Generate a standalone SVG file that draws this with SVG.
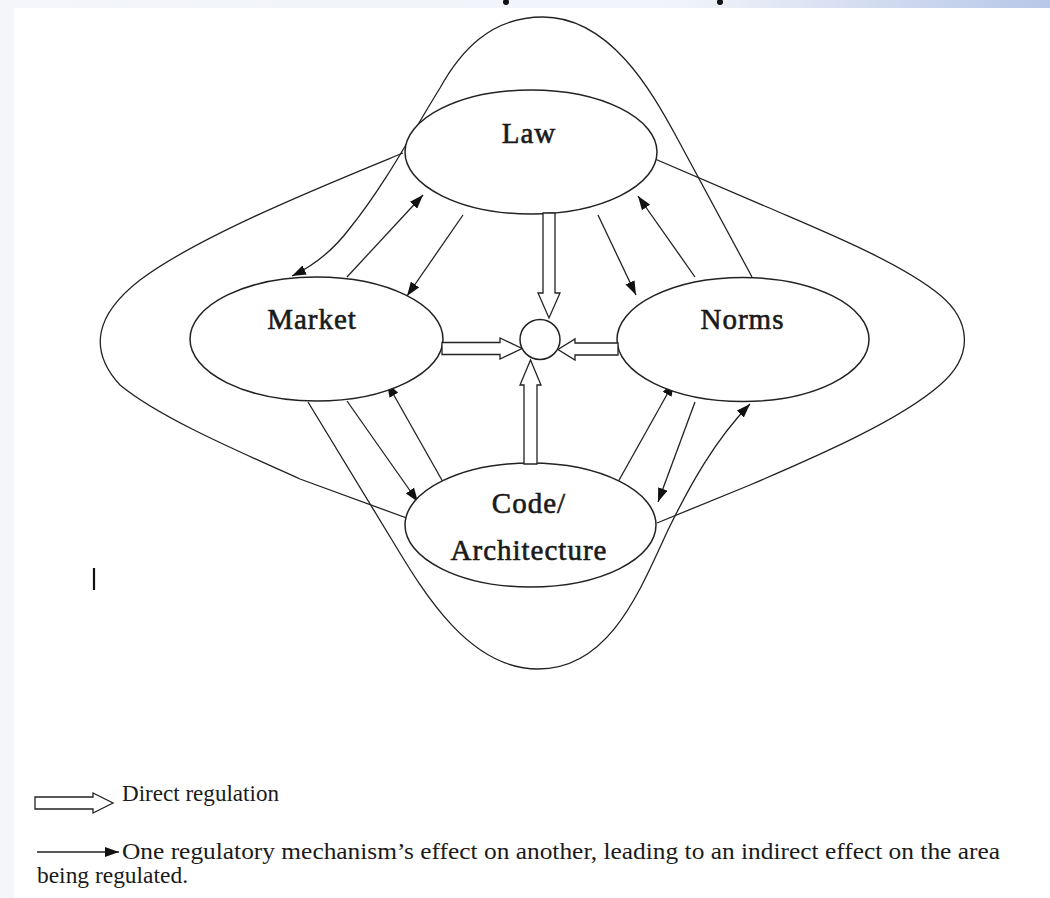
<svg xmlns="http://www.w3.org/2000/svg" width="1050" height="898" viewBox="0 0 1050 898">
<defs>
<linearGradient id="topbar" x1="0" y1="0" x2="1" y2="0">
<stop offset="0" stop-color="#f4f6fa"/>
<stop offset="0.65" stop-color="#f0f3f9"/>
<stop offset="1" stop-color="#b7c7e8"/>
</linearGradient>
<marker id="ah" viewBox="0 0 14 10" refX="14" refY="5" markerWidth="14" markerHeight="10" markerUnits="userSpaceOnUse" orient="auto">
<path d="M0,0 L14,5 L0,10 Z" fill="#111"/>
</marker>
</defs>
<style>
.ln{fill:none;stroke:#222;stroke-width:1.3}
.arr{marker-end:url(#ah)}
.node{fill:#fff;stroke:#222;stroke-width:1.5}
.hollow{fill:#fff;stroke:#222;stroke-width:1.3;stroke-linejoin:miter}
.lbl{font-family:"Liberation Serif","Times New Roman",serif;font-size:29px;letter-spacing:1px;fill:#1a1a1a;stroke:#1a1a1a;stroke-width:0.6;text-anchor:middle}
.leg{font-family:"Liberation Serif","Times New Roman",serif;font-size:22.5px;fill:#1a1a1a}
</style>
<rect x="0" y="0" width="1050" height="898" fill="#ffffff"/>
<rect x="0" y="0" width="1050" height="8" fill="url(#topbar)"/>
<rect x="0" y="0" width="14" height="898" fill="#f4f6fa"/>
<ellipse cx="506" cy="2" rx="3" ry="3" fill="#111"/>
<ellipse cx="720" cy="2" rx="3" ry="3" fill="#111"/>

<g id="connectors">
<path class="ln arr" d="M 752 277 L 676 136 C 652 92 610 17 543 17 C 490 17 460 52 440 88 C 415 128 385 185 350 228 C 335 248 315 265 292 276"/>
<path class="ln arr" d="M 403 153 C 330 183 200 235 140 280 C 95 315 88 350 120 385 C 160 418 240 452 300 479 L 423 524"/>
<path class="ln arr" d="M 657 523 L 750 485 C 820 455 900 420 940 385 C 975 355 970 320 940 295 C 900 262 820 230 767 207 L 641 153"/>
<path class="ln arr" d="M 308 402 L 392 540 C 425 595 470 669 538 669 C 610 669 640 590 668 530 C 690 485 715 440 750 404"/>
<line class="ln arr" x1="347" y1="277" x2="423" y2="195"/>
<line class="ln arr" x1="463" y1="215" x2="407" y2="296"/>
<line class="ln arr" x1="347" y1="401" x2="418" y2="502"/>
<line class="ln arr" x1="443" y1="482" x2="387" y2="383"/>
<line class="ln arr" x1="618" y1="482" x2="674" y2="382"/>
<line class="ln arr" x1="695" y1="402" x2="658" y2="502"/>
<line class="ln arr" x1="598" y1="215" x2="636" y2="295"/>
<line class="ln arr" x1="695" y1="277" x2="638" y2="196"/>
</g>

<g id="law">
<ellipse class="node" cx="531" cy="152" rx="126" ry="62"/>
<text class="lbl" x="529" y="143">Law</text>
</g>
<g id="market">
<ellipse class="node" cx="316.5" cy="339" rx="126.5" ry="62"/>
<text class="lbl" x="312" y="329">Market</text>
</g>
<g id="norms">
<ellipse class="node" cx="743" cy="339.5" rx="126" ry="62"/>
<text class="lbl" x="742.5" y="329">Norms</text>
</g>
<g id="code">
<ellipse class="node" cx="530.5" cy="525" rx="125.5" ry="62"/>
<text class="lbl" x="529" y="513">Code/</text>
<text class="lbl" x="529" y="560">Architecture</text>
</g>
<g id="center">
<circle class="node" cx="540" cy="339.5" r="20"/>
</g>

<g id="direct-arrows">
<polygon class="hollow" points="543,213 555,213 555,293 560,293 549,318 538,293 543,293"/>
<polygon class="hollow" points="442,342.5 500,342.5 500,338 522,348.5 500,359 500,354.5 442,354.5"/>
<polygon class="hollow" points="618,343 575,343 575,339 558,349.5 575,360 575,355 618,355"/>
<polygon class="hollow" points="524,464 524,385 520,385 530.5,360 541,385 537,385 537,464"/>
</g>

<line x1="94" y1="568" x2="94" y2="590" stroke="#111" stroke-width="2.2"/>

<g id="legend">
<polygon class="hollow" points="35,797 93,797 93,793 113,803 93,813 93,809 35,809"/>
<text class="leg" x="122" y="801" textLength="157" lengthAdjust="spacingAndGlyphs">Direct regulation</text>
<line class="ln arr" x1="37" y1="852" x2="119" y2="852"/>
<text class="leg" x="122" y="859" textLength="878" lengthAdjust="spacingAndGlyphs">One regulatory mechanism’s effect on another, leading to an indirect effect on the area</text>
<text class="leg" x="37" y="883" textLength="151" lengthAdjust="spacingAndGlyphs">being regulated.</text>
</g>
</svg>
